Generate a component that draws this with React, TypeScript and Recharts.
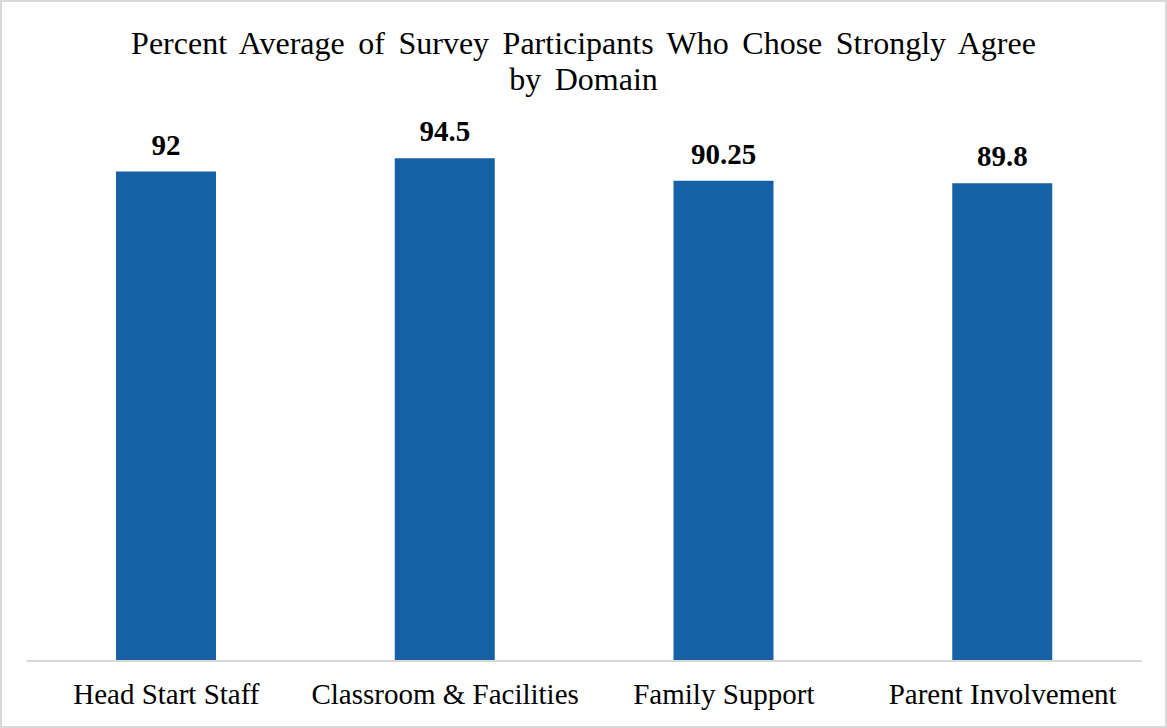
import { BarChart, Bar, XAxis, YAxis, LabelList } from "recharts"

// 4 domains, average % choosing "Strongly Agree"
const domains = ["Head Start Staff", "Classroom & Facilities", "Family Support", "Parent Involvement"]
const strongAgree = [92, 94.5, 90.25, 89.8]

const titleLines = ["Percent Average of Survey Participants Who Chose Strongly Agree", "by Domain"]

const data = domains.map((d, i) => ({ domain: d, value: strongAgree[i] }))

const serif = "Liberation Serif, Times New Roman, serif"

export default function App() {
  return (
    <div
      style={{
        position: "absolute",
        left: 0,
        top: 0,
        width: 1167,
        height: 728,
        boxSizing: "border-box",
        border: "2px solid #d9d9d9",
        background: "#fff",
        fontFamily: serif,
      }}
    >
      <div
        style={{
          position: "absolute",
          left: -2,
          top: 23,
          width: 1167,
          textAlign: "center",
          fontSize: 32,
          lineHeight: "36px",
          color: "#000",
          wordSpacing: 5.5,
        }}
      >
        {titleLines.map((t) => (
          <div key={t}>{t}</div>
        ))}
      </div>
      <div style={{ position: "absolute", left: -2, top: -2 }}>
        <BarChart
          width={1167}
          height={728}
          data={data}
          margin={{ top: 129, right: 25, bottom: 37, left: 27 }}
        >
          <XAxis
            dataKey="domain"
            height={30}
            axisLine={{ stroke: "#d9d9d9", strokeWidth: 2 }}
            tickLine={false}
            tickMargin={16}
            tick={{ fill: "#000", fontSize: 29, fontFamily: serif }}
            interval={0}
          />
          <YAxis hide domain={[0, 100]} />
          <Bar dataKey="value" fill="#1661a5" barSize={100} isAnimationActive={false}>
            <LabelList
              dataKey="value"
              position="top"
              offset={17}
              fill="#000"
              fontSize={29}
              fontWeight="bold"
              fontFamily={serif}
            />
          </Bar>
        </BarChart>
      </div>
    </div>
  )
}
